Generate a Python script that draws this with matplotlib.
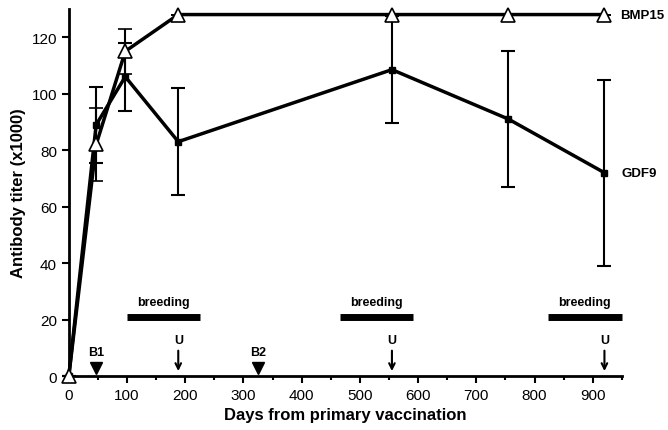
import matplotlib.pyplot as plt
from matplotlib.ticker import MultipleLocator

plt.rcParams['font.family'] = ['Liberation Sans', 'DejaVu Sans']

# BMP15 titer (open triangles)
bmp_days = [0, 47, 97, 188, 555, 755, 920]
bmp_titer = [0, 82, 115, 128, 128, 128, 128]
bmp_err = [0, 13, 8, 0, 0, 0, 0]

# GDF9 titer (filled squares)
gdf_days = [0, 47, 97, 188, 555, 755, 920]
gdf_titer = [0, 89, 106, 83, 108.5, 91, 72]
gdf_err = [0, 13.5, 12, 19, 19, 24, 33]

# breeding periods (start, end)
breeding = [(100, 225), (466, 592), (823, 950)]
booster_days = [47, 325]
booster_labels = ["B1", "B2"]
u_days = [188, 555, 920]

fig = plt.figure(figsize=(6.68, 4.31), dpi=100)
ax = fig.add_axes([0.103, 0.125, 0.828, 0.852])

ax.errorbar(gdf_days, gdf_titer, yerr=gdf_err, color='black', lw=2.5,
            marker='s', ms=4, capsize=5, elinewidth=1.5, capthick=1.5, clip_on=False, zorder=3)
ax.errorbar(bmp_days, bmp_titer, yerr=bmp_err, color='black', lw=2.5,
            marker='^', ms=10, mfc='white', mec='black', mew=1.2,
            capsize=5, elinewidth=1.5, capthick=1.5, clip_on=False, zorder=4)

ax.text(947, 128, "BMP15", fontsize=9.5, fontweight='bold', va='center', ha='left')
ax.text(950, 72, "GDF9", fontsize=9.5, fontweight='bold', va='center', ha='left')

for s, e in breeding:
    ax.plot([s, e], [21, 21], color='black', lw=5, solid_capstyle='butt', clip_on=False)
    ax.text((s + e) / 2, 24, "breeding", fontsize=9, fontweight='bold', ha='center', va='bottom')

for d, lab in zip(booster_days, booster_labels):
    ax.plot(d, 3, marker='v', color='black', ms=9, clip_on=False)
    ax.text(d, 6.5, lab, fontsize=9, fontweight='bold', ha='center', va='bottom')

for d in u_days:
    ax.annotate("", xy=(d, 0.8), xytext=(d, 10),
                arrowprops=dict(arrowstyle='->', color='black', lw=1.5))
    ax.text(d, 10.5, "U", fontsize=9, fontweight='bold', ha='center', va='bottom')

ax.set_xlim(0, 950)
ax.set_ylim(0, 130)
ax.set_xticks(range(0, 1000, 100))
ax.xaxis.set_minor_locator(MultipleLocator(50))
ax.set_yticks(range(0, 140, 20))
ax.tick_params(axis='both', which='major', length=5, width=1.5, labelsize=11, direction='out')
ax.tick_params(axis='x', which='minor', length=3, width=1.5)

for side in ['top', 'right']:
    ax.spines[side].set_visible(False)
for side in ['left', 'bottom']:
    ax.spines[side].set_linewidth(2)

ax.set_xlabel("Days from primary vaccination", fontsize=12, fontweight='bold')
ax.set_ylabel("Antibody titer (x1000)", fontsize=12, fontweight='bold')

plt.savefig("out.png", dpi=100)
